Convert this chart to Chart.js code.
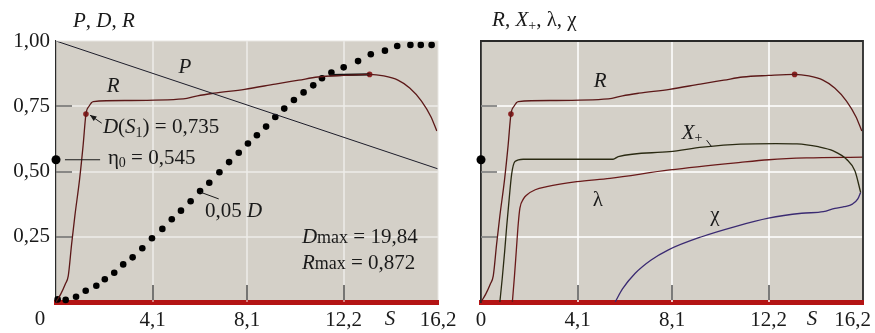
<!DOCTYPE html>
<html>
<head>
<meta charset="utf-8">
<script src="https://cdn.jsdelivr.net/npm/chart.js@4.4.1/dist/chart.umd.min.js"></script>
<style>
  html, body { margin: 0; padding: 0; background: #fff; overflow: hidden; }
  #wrap { position: relative; width: 875px; height: 333px; }
  canvas { position: absolute; left: 0; top: 0; width: 875px; height: 333px; }
</style>
</head>
<body>
<div id="wrap">
  <canvas id="leftChart" width="875" height="333"></canvas>
  <canvas id="rightChart" width="875" height="333"></canvas>
</div>
<script>
// axis ticks
const sTicks = [0, 4.1, 8.1, 12.2, 16.2];
const vTicks = [0.25, 0.5, 0.75, 1];

// P, straight line
const pS = [0, 16.2];
const pV = [1, 0.51];

// R
const rS = [0, 0.2, 0.4, 0.52, 0.66, 0.8, 1.0, 1.15, 1.27, 1.4, 1.58, 3.0, 5.4, 6.0, 6.7, 8.0, 9.3, 10.3, 11.1, 12.2, 13.3, 13.9, 14.5, 15.0, 15.5, 15.9, 16.15];
const rV = [0, 0.03, 0.07, 0.1, 0.22, 0.33, 0.47, 0.6, 0.72, 0.75, 0.768, 0.772, 0.778, 0.79, 0.8, 0.815, 0.835, 0.85, 0.862, 0.868, 0.872, 0.866, 0.85, 0.82, 0.77, 0.71, 0.655];
const rMarkS = [1.27, 13.3];
const rMarkV = [0.72, 0.872];
const rMaxS = [11.6, 13.3];
const rMaxV = [0.869, 0.872];

// 0,05 D
const dS = [0.07, 0.41, 0.85, 1.26, 1.71, 2.07, 2.47, 2.85, 3.25, 3.66, 4.07, 4.51, 4.91, 5.3, 5.71, 6.11, 6.5, 6.93, 7.34, 7.75, 8.14, 8.52, 8.91, 9.3, 9.68, 10.09, 10.5, 10.91, 11.28, 11.68, 12.2, 12.81, 13.35, 13.95, 14.47, 15.03, 15.47, 15.93];
const dV = [0.01, 0.008, 0.02, 0.043, 0.062, 0.087, 0.112, 0.144, 0.171, 0.206, 0.244, 0.28, 0.317, 0.35, 0.386, 0.425, 0.457, 0.497, 0.536, 0.572, 0.607, 0.639, 0.672, 0.709, 0.741, 0.774, 0.803, 0.83, 0.857, 0.879, 0.899, 0.923, 0.949, 0.963, 0.981, 0.985, 0.985, 0.985];

const eta0 = 0.545;

// X+
const xpS = [0.8, 0.9, 1.0, 1.09, 1.2, 1.3, 1.44, 1.79, 5.6, 5.82, 8.0, 9.4, 11.0, 12.5, 13.4, 14.3, 14.94, 15.5, 15.86, 16.1];
const xpV = [0, 0.09, 0.19, 0.29, 0.4, 0.49, 0.538, 0.547, 0.547, 0.557, 0.576, 0.593, 0.605, 0.607, 0.606, 0.595, 0.579, 0.547, 0.502, 0.42];

// lambda
const lamS = [1.33, 1.42, 1.5, 1.58, 1.65, 1.8, 1.94, 2.3, 2.79, 4.06, 5.47, 8.0, 11.0, 12.2, 13.8, 16.2];
const lamV = [0, 0.1, 0.2, 0.3, 0.36, 0.395, 0.41, 0.43, 0.442, 0.461, 0.474, 0.506, 0.535, 0.545, 0.552, 0.555];

// chi
const chiS = [5.69, 6.0, 6.54, 7.2, 7.95, 9.36, 10.78, 12.19, 13.6, 14.52, 15.01, 15.4, 15.75, 15.98, 16.1];
const chiV = [0, 0.05, 0.11, 0.16, 0.2, 0.25, 0.289, 0.321, 0.34, 0.346, 0.359, 0.365, 0.375, 0.395, 0.42];

const FAM = "'Liberation Serif', 'DejaVu Serif', serif";
Chart.defaults.font.family = FAM;
Chart.defaults.font.size = 20;
Chart.defaults.color = '#1a1a1a';

const pts = (xs, ys) => xs.map((x, i) => ({ x, y: ys[i] }));
const fmt = (v, d) => v.toFixed(d).replace('.', ',');

function line(xs, ys, color, w, smooth) {
  return {
    data: pts(xs, ys),
    showLine: true,
    borderColor: color,
    borderWidth: w,
    pointRadius: 0,
    fill: false,
    cubicInterpolationMode: smooth ? 'monotone' : 'default',
    tension: 0,
  };
}
function dots(xs, ys, color, r) {
  return {
    data: pts(xs, ys),
    showLine: false,
    pointRadius: r,
    pointBackgroundColor: color,
    pointBorderWidth: 0,
    clip: false,
  };
}

const STY = {
  r: { font: `21px ${FAM}`, dy: 0 },
  i: { font: `italic 21px ${FAM}`, dy: 0 },
  s: { font: `14px ${FAM}`, dy: 5 },
  m: { font: `18px ${FAM}`, dy: 1 },
};
function rich(ctx, x, y, parts, align) {
  let w = 0;
  parts.forEach(([t, k]) => { ctx.font = STY[k].font; w += ctx.measureText(t).width; });
  let cx = align === 'center' ? x - w / 2 : x;
  ctx.textBaseline = 'middle';
  ctx.textAlign = 'left';
  ctx.fillStyle = '#1a1a1a';
  parts.forEach(([t, k]) => {
    ctx.font = STY[k].font;
    ctx.fillText(t, cx, y + STY[k].dy);
    cx += ctx.measureText(t).width;
  });
}

function makeDecor(cfg) {
  return {
    id: 'decor',
    beforeDraw(chart) {
      const { ctx, chartArea: a } = chart;
      ctx.save();
      ctx.fillStyle = '#d4d0c8';
      ctx.fillRect(a.left, a.top, a.right - a.left, a.bottom - a.top);
      ctx.restore();
    },
    beforeDatasetsDraw(chart) {
      const { ctx, chartArea: a, scales: { x, y } } = chart;
      ctx.save();
      // white grid at the inner ticks
      ctx.strokeStyle = cfg.grid;
      ctx.lineWidth = 1.5;
      ctx.beginPath();
      sTicks.filter(s => s > 0 && s < 16.2).forEach(s => {
        const px = Math.round(x.getPixelForValue(s));
        ctx.moveTo(px, a.top); ctx.lineTo(px, a.bottom);
      });
      vTicks.filter(v => v < 1).forEach(v => {
        const py = Math.round(y.getPixelForValue(v));
        ctx.moveTo(a.left, py); ctx.lineTo(a.right, py);
      });
      ctx.stroke();
      ctx.restore();
    },
    afterDraw(chart) {
      const { ctx, chartArea: a, scales: { x, y } } = chart;
      ctx.save();
      // frame top / right
      ctx.strokeStyle = cfg.frame;
      ctx.lineWidth = cfg.frameWidth;
      ctx.beginPath();
      ctx.moveTo(a.left, a.top);
      ctx.lineTo(a.right, a.top);
      ctx.lineTo(a.right, a.bottom - 2);
      ctx.stroke();
      // short dark ticks inside the plot
      ctx.strokeStyle = '#2a2a2a';
      ctx.lineWidth = 1.2;
      ctx.beginPath();
      vTicks.filter(v => v < 1).forEach(v => {
        const py = Math.round(y.getPixelForValue(v));
        ctx.moveTo(a.left, py); ctx.lineTo(a.left + 16, py);
      });
      sTicks.filter(s => s > 0 && s < 16.2).forEach(s => {
        const px = Math.round(x.getPixelForValue(s));
        ctx.moveTo(px, a.bottom - 2); ctx.lineTo(px, a.bottom - 17);
      });
      ctx.stroke();
      // leader lines
      cfg.leaders.forEach(l => {
        const x1 = x.getPixelForValue(l[0]), y1 = y.getPixelForValue(l[1]);
        const x2 = x.getPixelForValue(l[2]), y2 = y.getPixelForValue(l[3]);
        ctx.strokeStyle = '#1a1a1a';
        ctx.lineWidth = 1;
        ctx.beginPath(); ctx.moveTo(x1, y1); ctx.lineTo(x2, y2); ctx.stroke();
        if (l[4]) {
          const ang = Math.atan2(y2 - y1, x2 - x1);
          ctx.fillStyle = '#1a1a1a';
          ctx.beginPath();
          ctx.moveTo(x2, y2);
          ctx.lineTo(x2 - 7 * Math.cos(ang - 0.4), y2 - 7 * Math.sin(ang - 0.4));
          ctx.lineTo(x2 - 7 * Math.cos(ang + 0.4), y2 - 7 * Math.sin(ang + 0.4));
          ctx.closePath();
          ctx.fill();
        }
      });
      // texts
      cfg.notes.forEach(n => rich(ctx, x.getPixelForValue(n.s), y.getPixelForValue(n.v), n.parts, n.align));
      ctx.restore();
    }
  };
}

function makeChart(id, datasets, opt) {
  return new Chart(document.getElementById(id), {
    type: 'scatter',
    data: { datasets },
    options: {
      responsive: false,
      animation: false,
      layout: { padding: opt.padding },
      scales: {
        x: {
          type: 'linear',
          min: 0,
          max: 16.2,
          afterBuildTicks: s => { s.ticks = sTicks.map(v => ({ value: v })); },
          afterFit: s => { s.height = 31; s.paddingLeft = 0; s.paddingRight = 0; },
          ticks: {
            autoSkip: false,
            maxRotation: 0,
            padding: 6,
            color: '#1a1a1a',
            font: { size: 21 },
            callback: opt.xLabel,
          },
          grid: { drawOnChartArea: false, drawTicks: false },
          border: { color: '#b41414', width: 5 },
        },
        y: {
          type: 'linear',
          min: 0,
          max: 1,
          afterBuildTicks: s => { s.ticks = vTicks.map(v => ({ value: v })); },
          afterFit: s => { s.width = opt.yWidth; s.paddingTop = 0; s.paddingBottom = 0; },
          ticks: {
            display: opt.yLabels,
            padding: 6,
            color: '#1a1a1a',
            font: { size: 21 },
            callback: v => fmt(v, 2),
          },
          grid: { drawOnChartArea: false, drawTicks: false },
          border: { color: '#2a2a2a', width: opt.yBorder },
        },
      },
      plugins: {
        legend: { display: false },
        tooltip: { enabled: false },
      },
    },
    plugins: [makeDecor(opt.decor)],
  });
}

// left panel: P, D, R
makeChart('leftChart', [
  line(pS, pV, '#1c1c2a', 1, false),
  line(rS, rV, '#5c1818', 1.3, true),
  line(rMaxS, rMaxV, '#111', 2.2, false),
  dots(dS, dV, '#000', 3.3),
  dots(rMarkS, rMarkV, '#8a2222', 2.8),
  dots([0], [eta0], '#000', 4.5),
], {
  padding: { left: 0, right: 437, top: 41, bottom: 0 },
  yWidth: 56,
  yLabels: true,
  yBorder: 1.2,
  xLabel: v => (v === 0 ? '' : fmt(v, 1)),
  decor: {
    grid: 'rgba(255,255,255,0.6)',
    frame: '#e8e6e2',
    frameWidth: 1,
    leaders: [
      [0.38, eta0, 1.87, eta0],
      [6.15, 0.42, 6.9, 0.395],
      [1.94, 0.685, 1.44, 0.716, true],
    ],
    notes: [
      { s: 0.72, v: 1.073, align: 'left', parts: [['P', 'i'], [', ', 'r'], ['D', 'i'], [', ', 'r'], ['R', 'i']] },
      { s: 5.47, v: 0.9, align: 'center', parts: [['P', 'i']] },
      { s: 2.42, v: 0.824, align: 'center', parts: [['R', 'i']] },
      { s: 1.99, v: 0.667, align: 'left', parts: [['D', 'i'], ['(', 'r'], ['S', 'i'], ['1', 's'], [') = 0,735', 'r']] },
      { s: 2.2, v: 0.55, align: 'left', parts: [['η', 'r'], ['0', 's'], [' = 0,545', 'r']] },
      { s: 6.32, v: 0.345, align: 'left', parts: [['0,05 ', 'r'], ['D', 'i']] },
      { s: 10.43, v: 0.249, align: 'left', parts: [['D', 'i'], ['max', 'm'], [' = 19,84', 'r']] },
      { s: 10.43, v: 0.149, align: 'left', parts: [['R', 'i'], ['max', 'm'], [' = 0,872', 'r']] },
      { s: 14.16, v: -0.066, align: 'center', parts: [['S', 'i']] },
      { s: -0.68, v: -0.066, align: 'center', parts: [['0', 'r']] },
    ],
  },
});

// right panel: R, X+, lambda, chi
makeChart('rightChart', [
  line(rS, rV, '#5c1818', 1.3, true),
  line(xpS, xpV, '#2a2a12', 1.3, true),
  line(lamS, lamV, '#6a1a1a', 1.3, true),
  line(chiS, chiV, '#3a2a72', 1.3, true),
  dots(rMarkS, rMarkV, '#8a2222', 2.8),
  dots([0], [eta0], '#000', 4.5),
], {
  padding: { left: 481, right: 12, top: 41, bottom: 0 },
  yWidth: 0,
  yLabels: false,
  yBorder: 1.8,
  xLabel: v => (v === 16.2 ? fmt(v, 1) + '\u2002\u2002' : (v === 0 ? '0' : fmt(v, 1))),
  decor: {
    grid: '#ffffff',
    frame: '#2a2a2a',
    frameWidth: 1.8,
    leaders: [
      [9.57, 0.62, 9.78, 0.595],
    ],
    notes: [
      { s: 0.47, v: 1.077, align: 'left', parts: [['R', 'i'], [', ', 'r'], ['X', 'i'], ['+', 's'], [', ', 'r'], ['λ', 'r'], [', ', 'r'], ['χ', 'r']] },
      { s: 5.05, v: 0.843, align: 'center', parts: [['R', 'i']] },
      { s: 8.95, v: 0.647, align: 'center', parts: [['X', 'i'], ['+', 's']] },
      { s: 4.96, v: 0.39, align: 'center', parts: [['λ', 'r']] },
      { s: 9.92, v: 0.333, align: 'center', parts: [['χ', 'r']] },
      { s: 14.04, v: -0.066, align: 'center', parts: [['S', 'i']] },
    ],
  },
});
</script>
</body>
</html>
